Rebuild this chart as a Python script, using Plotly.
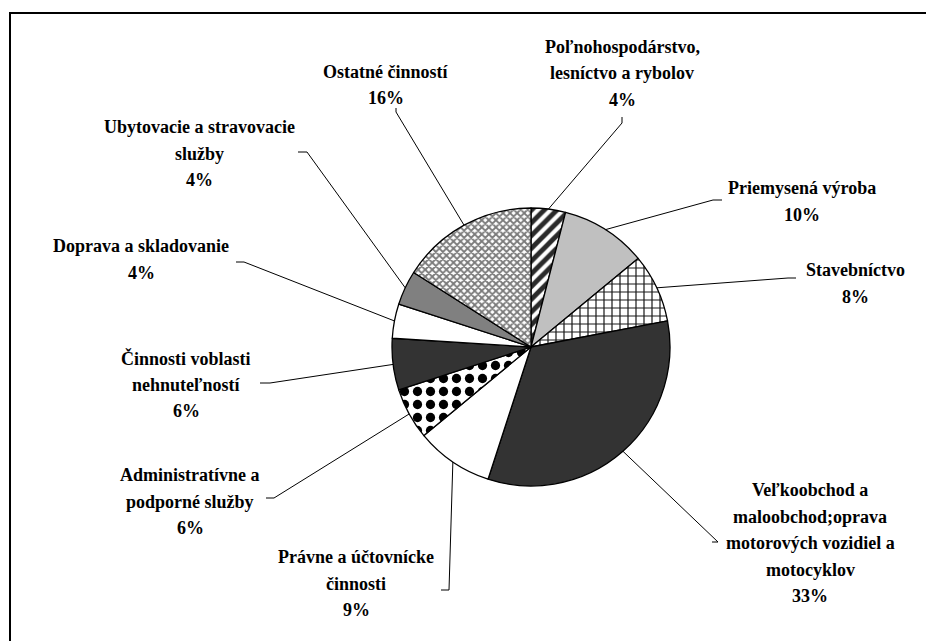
import math
import plotly.graph_objects as go

# ---- data ----
categories = [
    "Poľnohospodárstvo,<br>lesníctvo a rybolov",
    "Priemysená výroba",
    "Stavebníctvo",
    "Veľkoobchod a<br>maloobchod;oprava<br>motorových vozidiel a<br>motocyklov",
    "Právne a účtovnícke<br>činnosti",
    "Administratívne a<br>podporné služby",
    "Činnosti voblasti<br>nehnuteľností",
    "Doprava a skladovanie",
    "Ubytovacie a stravovacie<br>služby",
    "Ostatné činností",
]
shares = [4, 10, 8, 33, 9, 6, 6, 4, 4, 16]

# ---- styles ----
fill_colors = ["white", "#c0c0c0", "white", "#333333", "white",
               "white", "#333333", "white", "#808080", "white"]
pat_shapes = ["/", "", "+", "", "", ".", "", "", "", "x"]
pat_fg = ["#2a2a2a", "#c0c0c0", "#1a1a1a", "#333333", "white",
          "black", "#333333", "white", "#808080", "#7a7a7a"]
pat_size = [9, 8, 8, 8, 8, 13, 8, 8, 8, 5]
pat_sol = [0.55, 0.3, 0.28, 0.3, 0.3, 0.4, 0.3, 0.3, 0.3, 0.6]

OFF = 8                 # page body margin in the browser
W, H = 934 - OFF, 641 - OFF
CX, CY, R = 531, 347, 139  # pie center / radius in screen pixels

# label layout (screen pixel positions of first text line centre), elbow and line start
label_xy = [(622, 47), (802, 188), (855, 270), (810, 490), (356, 557),
            (190, 475), (186, 358), (141, 246), (199, 127), (386, 72)]
leader_start = [(622, 117), (722, 200), (796, 278), (712, 542), (441, 590),
                (266, 498), (260, 383), (236, 262), (298, 152), (396, 108)]
leader_elbow = [(622, 123), (713, 200), (788, 278), (718, 542), (449, 590),
                (274, 498), (270, 383), (244, 262), (307, 152), (396, 112)]
LINE_STEP = 26.5
FONT = dict(family="Liberation Serif, Times New Roman, serif", size=18, color="black")

def px(x):
    return (x - OFF) / W

def py(y):
    return 1 - (y - OFF) / H

fig = go.Figure(go.Pie(
    values=shares,
    labels=[c.replace("<br>", " ") for c in categories],
    sort=False,
    direction="clockwise",
    rotation=0,
    textinfo="none",
    hoverinfo="label+percent",
    marker=dict(
        colors=fill_colors,
        line=dict(color="black", width=1.3),
        pattern=dict(shape=pat_shapes, fgcolor=pat_fg, bgcolor=fill_colors,
                     size=pat_size, solidity=pat_sol, fillmode="replace",
                     fgopacity=1),
    ),
    domain=dict(x=[px(CX - R), px(CX + R)], y=[py(CY + R), py(CY - R)]),
    showlegend=False,
))

total = sum(shares)
cum = 0
shapes = []
annotations = []
for i, (cat, v) in enumerate(zip(categories, shares)):
    mid = (cum + v / 2) / total * 2 * math.pi
    cum += v
    ex = CX + R * math.sin(mid)
    ey = CY - R * math.cos(mid)
    sx, sy = leader_start[i]
    bx, by = leader_elbow[i]
    shapes.append(dict(
        type="path", xref="paper", yref="paper",
        path=f"M {px(sx)} {py(sy)} L {px(bx)} {py(by)} L {px(ex)} {py(ey)}",
        line=dict(color="black", width=1),
    ))
    lines = cat.split("<br>") + [f"{round(v / total * 100)}%"]
    lx, ly = label_xy[i]
    for j, t in enumerate(lines):
        annotations.append(dict(
            x=px(lx), y=py(ly + j * LINE_STEP), xref="paper", yref="paper",
            text=f"<b>{t}</b>", showarrow=False, xanchor="center", yanchor="middle",
            font=FONT,
        ))

# chart frame (left and top edges visible)
shapes.append(dict(type="line", xref="paper", yref="paper",
                   x0=px(10), x1=px(10), y0=py(12), y1=0,
                   line=dict(color="black", width=2)))
shapes.append(dict(type="line", xref="paper", yref="paper",
                   x0=px(9), x1=1, y0=py(13), y1=py(13),
                   line=dict(color="black", width=2)))

fig.update_layout(
    width=W, height=H,
    margin=dict(l=0, r=0, t=0, b=0),
    paper_bgcolor="white",
    plot_bgcolor="white",
    shapes=shapes,
    annotations=annotations,
    font=FONT,
)

fig.write_html("out.html")
